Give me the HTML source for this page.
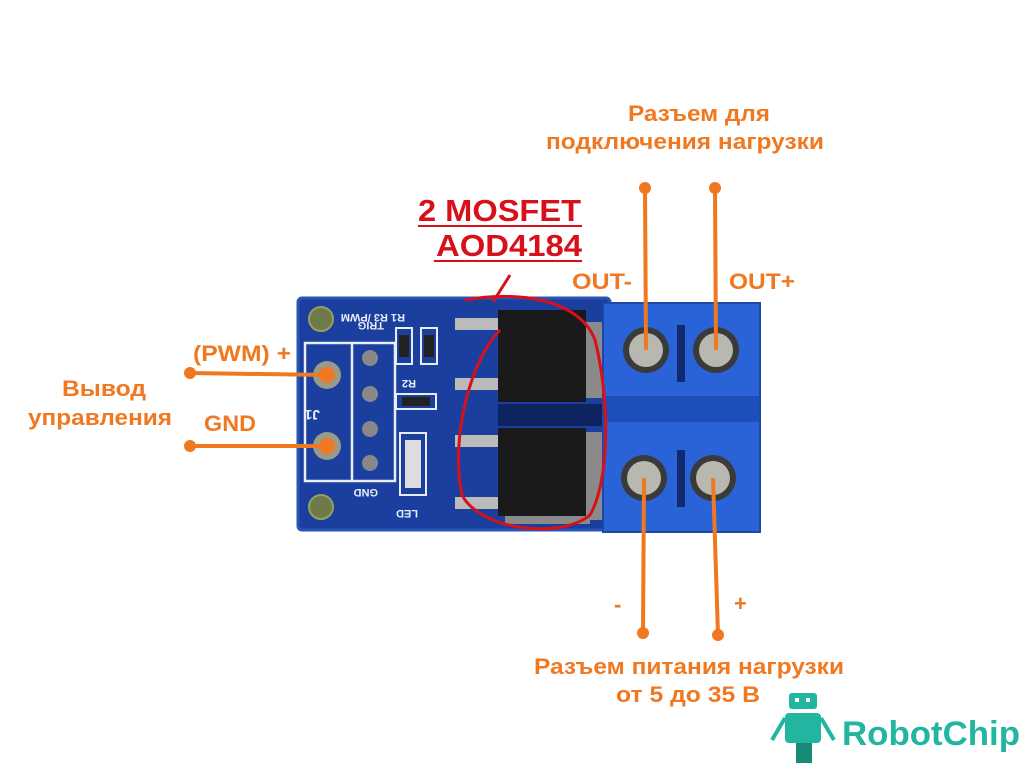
<!DOCTYPE html>
<html><head><meta charset="utf-8"><style>
html,body{margin:0;padding:0;background:#fff;width:1024px;height:768px;overflow:hidden}
svg{display:block}
text{font-family:"Liberation Sans","DejaVu Sans",sans-serif;font-weight:bold}
</style></head><body>
<svg width="1024" height="768" viewBox="0 0 1024 768">
<!-- PCB -->
<rect x="298" y="298" width="312" height="232" rx="4" fill="#1b3f9e"/>
<rect x="298" y="298" width="312" height="232" rx="4" fill="none" stroke="#2a55b8" stroke-width="3"/>
<circle cx="321" cy="319" r="12" fill="#6e7a4a" stroke="#95a060" stroke-width="2"/>
<circle cx="321" cy="507" r="12" fill="#6e7a4a" stroke="#95a060" stroke-width="2"/>
<rect x="305" y="343" width="90" height="138" fill="none" stroke="#e8eef8" stroke-width="2.5"/>
<line x1="352" y1="343" x2="352" y2="481" stroke="#e8eef8" stroke-width="2.5"/>
<circle cx="327" cy="375" r="14" fill="#9a9a88"/><circle cx="327" cy="375" r="8" fill="#f07820"/>
<circle cx="327" cy="446" r="14" fill="#9a9a88"/><circle cx="327" cy="446" r="8" fill="#f07820"/>
<circle cx="370" cy="358" r="8" fill="#888"/><circle cx="370" cy="394" r="8" fill="#888"/>
<circle cx="370" cy="429" r="8" fill="#888"/><circle cx="370" cy="463" r="8" fill="#888"/>
<text x="334" y="410" font-size="14" fill="#e8eef8" transform="rotate(180 327 410)">J1</text>
<text x="355" y="318" font-size="11" fill="#e8eef8" transform="rotate(180 380 316)">R1 R3 /PWM</text>
<text x="356" y="330" font-size="11" fill="#e8eef8" transform="rotate(180 370 326)">TRIG</text>
<text x="352" y="497" font-size="11" fill="#e8eef8" transform="rotate(180 365 493)">GND</text>
<text x="392" y="518" font-size="11" fill="#e8eef8" transform="rotate(180 405 514)">LED</text>
<text x="398" y="388" font-size="11" fill="#e8eef8" transform="rotate(180 407 384)">R2</text>
<rect x="396" y="328" width="16" height="36" fill="none" stroke="#e8eef8" stroke-width="2"/><rect x="399" y="335" width="10" height="22" fill="#222"/>
<rect x="421" y="328" width="16" height="36" fill="none" stroke="#e8eef8" stroke-width="2"/><rect x="424" y="335" width="10" height="22" fill="#222"/>
<rect x="396" y="394" width="40" height="15" fill="none" stroke="#e8eef8" stroke-width="2"/><rect x="402" y="397" width="28" height="9" fill="#222"/>
<rect x="400" y="433" width="26" height="62" fill="none" stroke="#e8eef8" stroke-width="2"/><rect x="405" y="440" width="16" height="48" fill="#ddd"/>
<rect x="455" y="318" width="45" height="12" fill="#bbb"/>
<rect x="455" y="378" width="45" height="12" fill="#bbb"/>
<rect x="455" y="435" width="45" height="12" fill="#bbb"/>
<rect x="455" y="497" width="45" height="12" fill="#bbb"/>
<rect x="580" y="322" width="24" height="76" fill="#8a8a8a"/>
<rect x="580" y="432" width="24" height="88" fill="#8a8a8a"/>
<rect x="505" y="514" width="85" height="10" fill="#8a8a8a"/>
<rect x="498" y="310" width="88" height="92" fill="#1a1a1c"/>
<rect x="498" y="428" width="88" height="88" fill="#1a1a1c"/>
<rect x="498" y="404" width="106" height="22" fill="#0e2460"/>
<!-- terminal block -->
<rect x="603" y="303" width="157" height="229" fill="#2a63d8"/>
<rect x="603" y="396" width="157" height="26" fill="#1e4fb8"/>
<rect x="603" y="303" width="157" height="229" fill="none" stroke="#1d48a8" stroke-width="2"/>
<rect x="677" y="325" width="8" height="57" fill="#102a70"/>
<rect x="677" y="450" width="8" height="57" fill="#102a70"/>
<g fill="#3a3a3a">
<circle cx="646" cy="350" r="23"/><circle cx="716" cy="350" r="23"/>
<circle cx="644" cy="478" r="23"/><circle cx="713" cy="478" r="23"/></g>
<g fill="#b8b8b0">
<circle cx="646" cy="350" r="17"/><circle cx="716" cy="350" r="17"/>
<circle cx="644" cy="478" r="17"/><circle cx="713" cy="478" r="17"/></g>
<path d="M465,300 C520,290 580,300 595,340 C610,400 610,480 590,515 C560,540 480,530 462,495 C450,440 470,360 500,330" fill="none" stroke="#d8101a" stroke-width="3"/>
<line x1="510" y1="275" x2="493" y2="302" stroke="#d8101a" stroke-width="3"/>
<text x="418" y="221" font-size="31" fill="#d8101a" textLength="163" lengthAdjust="spacingAndGlyphs">2 MOSFET</text>
<line x1="418" y1="226" x2="582" y2="226" stroke="#d8101a" stroke-width="2"/>
<text x="436" y="256" font-size="31" fill="#d8101a" textLength="146" lengthAdjust="spacingAndGlyphs">AOD4184</text>
<line x1="434" y1="261" x2="582" y2="261" stroke="#d8101a" stroke-width="2"/>
<g stroke="#f07820" stroke-width="4" fill="#f07820">
<line x1="190" y1="373" x2="327" y2="375"/>
<line x1="190" y1="446" x2="327" y2="446"/>
<line x1="645" y1="188" x2="646" y2="350"/>
<line x1="715" y1="188" x2="716" y2="350"/>
<line x1="644" y1="478" x2="643" y2="633"/>
<line x1="713" y1="478" x2="718" y2="635"/>
<circle cx="190" cy="373" r="6" stroke="none"/><circle cx="190" cy="446" r="6" stroke="none"/>
<circle cx="645" cy="188" r="6" stroke="none"/><circle cx="715" cy="188" r="6" stroke="none"/>
<circle cx="643" cy="633" r="6" stroke="none"/><circle cx="718" cy="635" r="6" stroke="none"/>
</g>
<g fill="#f07820" font-size="22">
<text x="193" y="361" textLength="98" lengthAdjust="spacingAndGlyphs">(PWM) +</text>
<text x="62" y="396" textLength="84" lengthAdjust="spacingAndGlyphs">Вывод</text>
<text x="28" y="425" textLength="144" lengthAdjust="spacingAndGlyphs">управления</text>
<text x="204" y="431" textLength="52" lengthAdjust="spacingAndGlyphs">GND</text>
<text x="628" y="121" textLength="142" lengthAdjust="spacingAndGlyphs">Разъем для</text>
<text x="546" y="149" textLength="278" lengthAdjust="spacingAndGlyphs">подключения нагрузки</text>
<text x="572" y="289" textLength="60" lengthAdjust="spacingAndGlyphs">OUT-</text>
<text x="729" y="289" textLength="66" lengthAdjust="spacingAndGlyphs">OUT+</text>
<text x="614" y="612">-</text>
<text x="734" y="611">+</text>
<text x="534" y="674" textLength="310" lengthAdjust="spacingAndGlyphs">Разъем питания нагрузки</text>
<text x="616" y="702" textLength="144" lengthAdjust="spacingAndGlyphs">от 5 до 35 В</text>
</g>
<g fill="#22b5a0">
<rect x="789" y="693" width="28" height="16" rx="3"/>
<rect x="785" y="713" width="36" height="30" rx="4"/>
<rect x="796" y="743" width="16" height="20" fill="#178a78"/>
<line x1="785" y1="718" x2="772" y2="740" stroke="#22b5a0" stroke-width="4"/>
<line x1="821" y1="718" x2="834" y2="740" stroke="#22b5a0" stroke-width="4"/>
<text x="842" y="745" font-size="34" textLength="178" lengthAdjust="spacingAndGlyphs">RobotChip</text>
</g>
<rect x="795" y="698" width="4" height="4" fill="#fff"/><rect x="806" y="698" width="4" height="4" fill="#fff"/>
</svg>
</body></html>
